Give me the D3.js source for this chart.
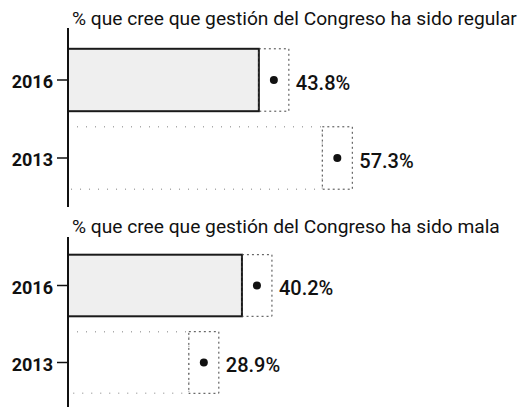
<!DOCTYPE html>
<html>
<head>
<meta charset="utf-8">
<script src="https://cdn.jsdelivr.net/npm/d3@7"></script>
<style>
	body { margin: 0; background: #fff; }
	text { font-family: Roboto, "Noto Sans", sans-serif; fill: #111; }
</style>
</head>
<body>
<div id="chart"></div>
<script>
// Datos del gráfico
const years = ["2016", "2013"];
const regularValues = [43.8, 57.3];
const malaValues = [40.2, 28.9];
const panelTitles = [
	"% que cree que gestión del Congreso ha sido regular",
	"% que cree que gestión del Congreso ha sido mala"
];

(function (d3) {
	"use strict";

	const width = 526, height = 407;
	const svg = d3.select("#chart")
		.append("svg")
		.attr("width", width)
		.attr("height", height);

	// Escala horizontal común a los dos paneles
	const x = d3.scaleLinear().domain([0, 100]).range([68, 538]);
	const boxHalf = 15;

	const panels = [
		{ title: panelTitles[0], values: regularValues, titleY: 25, axisTop: 28, axisBottom: 207, bandRange: [41, 197] },
		{ title: panelTitles[1], values: malaValues, titleY: 233, axisTop: 237, axisBottom: 407, bandRange: [247, 401] }
	];

	panels.forEach(function (panel) {
		const g = svg.append("g");
		const data = years.map((yr, i) => ({ year: yr, value: panel.values[i] }));

		const y = d3.scaleBand()
			.domain(years)
			.range(panel.bandRange)
			.paddingInner(0.2)
			.paddingOuter(0.1);

		// Título
		g.append("text")
			.attr("x", 72)
			.attr("y", panel.titleY)
			.style("font-size", "19.2px")
			.text(panel.title);

		// Barras
		g.selectAll("rect.bar")
			.data(data)
			.enter()
			.append("rect")
			.attr("class", "bar")
			.attr("x", x(0))
			.attr("y", d => y(d.year))
			.attr("width", d => x(d.value) - boxHalf - x(0))
			.attr("height", y.bandwidth())
			.attr("fill", d => d.year === "2016" ? "#efefef" : "#fff")
			.attr("stroke", d => d.year === "2016" ? "#1a1a1a" : "#aaa")
			.attr("stroke-width", d => d.year === "2016" ? 2 : 1.5)
			.attr("stroke-dasharray", d => d.year === "2016" ? null : "1,8");

		// Caja punteada alrededor del punto
		g.selectAll("rect.box")
			.data(data)
			.enter()
			.append("rect")
			.attr("class", "box")
			.attr("x", d => x(d.value) - boxHalf)
			.attr("y", d => y(d.year))
			.attr("width", boxHalf * 2)
			.attr("height", y.bandwidth())
			.attr("fill", "none")
			.attr("stroke", "#444")
			.attr("stroke-width", 1)
			.attr("stroke-dasharray", "2,3");

		// Puntos
		g.selectAll("circle")
			.data(data)
			.enter()
			.append("circle")
			.attr("cx", d => x(d.value))
			.attr("cy", d => y(d.year) + y.bandwidth() / 2)
			.attr("r", 4)
			.attr("fill", "#111");

		// Etiquetas de valor
		g.selectAll("text.value")
			.data(data)
			.enter()
			.append("text")
			.attr("class", "value")
			.attr("x", d => x(d.value) + 22)
			.attr("y", d => y(d.year) + y.bandwidth() / 2)
			.attr("dy", "0.48em")
			.style("font-size", "20px")
			.style("font-weight", 500)
			.text(d => d.value.toFixed(1) + "%");

		// Eje vertical
		const axis = g.append("g")
			.attr("transform", "translate(" + x(0) + ",0)")
			.call(d3.axisLeft(y).tickSize(11).tickPadding(4));
		axis.select(".domain").remove();
		axis.selectAll(".tick line").attr("stroke", "#111").attr("stroke-width", 1.5);
		axis.selectAll(".tick text")
			.attr("dy", "0.45em")
			.style("font-size", "18px")
			.style("font-weight", "bold")
			.style("font-family", "Roboto, sans-serif")
			.attr("fill", "#111");

		g.append("line")
			.attr("x1", x(0)).attr("x2", x(0))
			.attr("y1", panel.axisTop).attr("y2", panel.axisBottom)
			.attr("stroke", "#111")
			.attr("stroke-width", 2);
	});
})(d3);
</script>
</body>
</html>
